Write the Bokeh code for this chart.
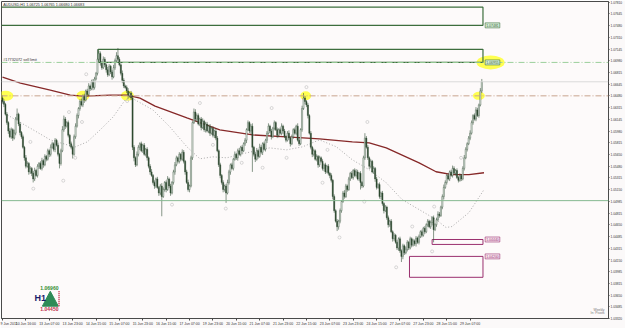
from bokeh.plotting import figure
from bokeh.models import Range1d, FixedTicker, Label, ColumnDataSource, Span
from bokeh.embed import file_html
from bokeh.resources import INLINE

# ---------------- data (AUDUSD H1) ----------------
first_open = 1.0645
closes = [
    1.0640, 1.0636, 1.0622, 1.0610, 1.0598, 1.0590, 1.0600, 1.0588, 1.0595, 1.0615,
    1.0622, 1.0608, 1.0596, 1.0590, 1.0575, 1.0560, 1.0548, 1.0552, 1.0540, 1.0545,
    1.0538, 1.0530, 1.0542, 1.0535, 1.0548, 1.0552, 1.0545, 1.0556, 1.0550, 1.0562,
    1.0558, 1.0570, 1.0565, 1.0575, 1.0580, 1.0572, 1.0585, 1.0578, 1.0565, 1.0552,
    1.0570, 1.0600, 1.0615, 1.0605, 1.0610, 1.0592, 1.0580, 1.0575, 1.0565, 1.0590,
    1.0605, 1.0620, 1.0630, 1.0640, 1.0635, 1.0648, 1.0642, 1.0655, 1.0650, 1.0662,
    1.0658, 1.0668, 1.0660, 1.0672, 1.0680, 1.0700, 1.0708, 1.0695, 1.0688, 1.0700,
    1.0692, 1.0685, 1.0678, 1.0690, 1.0682, 1.0675, 1.0688, 1.0698, 1.0705, 1.0700,
    1.0692, 1.0680, 1.0670, 1.0662, 1.0660, 1.0655, 1.0648, 1.0652, 1.0645, 1.0575,
    1.0560, 1.0550, 1.0565, 1.0575, 1.0580, 1.0570, 1.0578, 1.0565, 1.0572, 1.0560,
    1.0548, 1.0540, 1.0535, 1.0525, 1.0520, 1.0530, 1.0518, 1.0510, 1.0520, 1.0505,
    1.0515, 1.0525, 1.0515, 1.0530, 1.0520, 1.0510, 1.0525, 1.0540, 1.0550, 1.0560,
    1.0555, 1.0565, 1.0558, 1.0568, 1.0555, 1.0540, 1.0525, 1.0515, 1.0520, 1.0560,
    1.0610, 1.0625, 1.0615, 1.0620, 1.0608, 1.0615, 1.0603, 1.0612, 1.0600, 1.0608,
    1.0598, 1.0605, 1.0595, 1.0602, 1.0592, 1.0598, 1.0588, 1.0570, 1.0550, 1.0535,
    1.0525, 1.0515, 1.0520, 1.0510, 1.0525, 1.0540, 1.0550, 1.0545, 1.0558, 1.0565,
    1.0560, 1.0570, 1.0565, 1.0575, 1.0570, 1.0580, 1.0585, 1.0600, 1.0610, 1.0598,
    1.0605, 1.0575, 1.0565, 1.0558, 1.0570, 1.0562, 1.0575, 1.0568, 1.0580, 1.0572,
    1.0585, 1.0595, 1.0605, 1.0598, 1.0590, 1.0602, 1.0610, 1.0600, 1.0592, 1.0600,
    1.0595, 1.0605, 1.0598, 1.0590, 1.0585, 1.0595, 1.0588, 1.0580, 1.0590, 1.0600,
    1.0595, 1.0605, 1.0585, 1.0580, 1.0600, 1.0630, 1.0645, 1.0640, 1.0635, 1.0620,
    1.0595, 1.0575, 1.0565, 1.0570, 1.0558, 1.0562, 1.0550, 1.0560, 1.0555, 1.0545,
    1.0550, 1.0540, 1.0548, 1.0538, 1.0535, 1.0528, 1.0505, 1.0485, 1.0470, 1.0462,
    1.0470, 1.0485, 1.0498, 1.0510, 1.0505, 1.0520, 1.0515, 1.0530, 1.0538, 1.0532,
    1.0542, 1.0535, 1.0540, 1.0530, 1.0538, 1.0525, 1.0520, 1.0560, 1.0588, 1.0575,
    1.0560, 1.0548, 1.0555, 1.0540, 1.0545, 1.0530, 1.0518, 1.0522, 1.0505, 1.0510,
    1.0495, 1.0485, 1.0490, 1.0475, 1.0465, 1.0470, 1.0455, 1.0445, 1.0450, 1.0440,
    1.0432, 1.0445, 1.0428, 1.0420, 1.0435, 1.0425, 1.0430, 1.0440, 1.0432, 1.0445,
    1.0436, 1.0442, 1.0438, 1.0446, 1.0440, 1.0448, 1.0455, 1.0450, 1.0460, 1.0455,
    1.0465, 1.0470, 1.0462, 1.0468, 1.0475, 1.0458, 1.0465, 1.0472, 1.0480, 1.0478,
    1.0490, 1.0505, 1.0518, 1.0525, 1.0535, 1.0530, 1.0540, 1.0535, 1.0545, 1.0538,
    1.0542, 1.0532, 1.0528, 1.0535, 1.0530, 1.0545, 1.0560, 1.0572, 1.0580, 1.0588,
    1.0595, 1.0610, 1.0620, 1.0615, 1.0628, 1.0620, 1.0635, 1.0655, 1.0668,
]
# upper / lower shadow lengths in pips
up_wick = [
    4,3,2,3,2,4,3,2,5,3, 8,2,3,2,3,2,4,3,2,3,
    2,3,4,2,3,2,3,4,2,3, 2,3,2,4,3,2,3,2,3,2,
    3,5,5,3,2,3,2,3,2,3, 4,3,2,3,4,2,3,2,3,4,
    2,3,4,3,2,14,4,3,2,4, 3,2,4,3,2,3,4,3,5,11,
    3,2,4,3,2,3,4,2,3,4, 3,2,4,3,2,3,2,3,2,3,
    2,3,4,2,3,2,3,2,3,4, 3,2,3,4,2,3,2,3,4,3,
    2,3,2,4,3,2,3,4,2,3, 2,5,4,3,3,2,3,4,2,3,
    3,2,3,2,3,2,4,3,2,3, 2,3,2,3,4,3,2,3,2,4,
    2,3,4,2,3,2,3,2,3,2, 3,4,2,3,4,2,5,3,2,3,
    2,3,4,2,3,2,3,2,3,2, 3,4,2,3,2,3,4,2,3,2,
    3,2,4,3,2,4,7,3,2,3, 2,3,2,3,2,3,2,3,2,3,
    2,3,2,3,2,3,2,3,2,3, 2,3,2,3,4,3,2,3,2,3,
    2,3,4,3,2,3,2,3,7,3, 3,2,3,2,3,2,3,2,3,2,
    3,2,3,2,3,2,3,2,3,2, 3,2,3,2,3,2,4,3,2,3,
    2,3,2,3,2,3,2,3,2,3, 2,3,2,3,2,3,2,3,4,3,
    2,3,4,3,2,3,2,3,4,3, 2,3,2,3,2,3,4,3,2,3,
    4,3,2,3,4,3,2,4,4,
]
lo_wick = [
    3,4,2,3,4,2,3,4,2,3, 2,3,4,3,2,4,3,2,4,3,
    4,5,3,2,3,4,2,3,4,2, 3,2,4,3,2,3,4,2,3,7,
    3,2,3,4,2,3,4,3,6,2, 3,2,4,3,2,3,4,2,3,2,
    3,2,4,3,2,3,2,4,3,2, 3,4,3,2,3,4,2,3,2,3,
    2,3,4,3,2,3,4,2,3,4, 5,3,2,3,4,2,3,2,3,4,
    3,4,2,3,4,3,2,4,3,28, 2,3,4,2,3,4,2,3,4,2,
    3,3,3,2,3,4,2,3,4,2, 3,2,3,4,2,3,4,2,3,4,
    2,3,4,2,3,4,3,2,3,4, 3,4,3,14,2,3,4,2,3,2,
    3,4,2,3,4,2,3,4,2,3, 4,35,3,4,2,3,2,3,4,2,
    3,4,2,3,4,2,3,2,4,3, 2,3,4,2,3,2,3,4,2,3,
    2,3,2,3,2,3,2,4,3,4, 2,3,4,3,2,3,4,3,2,3,
    4,3,2,3,4,3,4,3,2,6, 4,3,3,2,3,2,3,2,3,2,
    3,2,3,2,3,10,3,2,3,2, 3,4,3,2,3,4,3,2,3,4,
    3,4,2,3,4,3,2,4,3,2, 3,4,3,8,4,3,2,3,3,2,
    3,2,3,4,2,3,2,3,2,3, 2,3,2,3,4,18,2,3,2,3,
    2,3,4,2,3,2,3,2,3,2, 3,2,3,2,3,2,3,2,3,2,
    3,2,3,2,3,2,3,2,3,
]

# slow moving average (dark red), sampled
ma_slow_idx = [0, 12.3, 32.7, 46.4, 55.3, 73.7, 85.3, 94.1, 104.4, 126.2, 148.7, 171.2,
               194.4, 216.9, 239.4, 251, 262.6, 285.1, 296.7, 307.6, 319.2, 329.5]
ma_slow_val = [1.06745, 1.06661, 1.06562, 1.06491, 1.06477, 1.06491, 1.06491, 1.06448,
               1.06335, 1.06166, 1.05996, 1.05925, 1.05897, 1.05869, 1.05826, 1.05812,
               1.05741, 1.05529, 1.05402, 1.05360, 1.05360, 1.05388]
# fast moving average (dotted grey), sampled
ma_fast_idx = [3.4, 21.1, 32.7, 44.3, 49.8, 58, 66.8, 75.7, 83.9, 87.3, 103, 114.6, 126.2,
               135.1, 143.9, 153.5, 167.1, 182.8, 194.4, 205.3, 216.9, 228.5, 239.4, 251,
               262.6, 273.5, 285.1, 296.7, 303.5, 307.6, 319.2, 329.5]
ma_fast_val = [1.06208, 1.05996, 1.05855, 1.05784, 1.05756, 1.05826, 1.05996, 1.06180,
               1.06420, 1.06463, 1.06279, 1.06038, 1.05756, 1.05586, 1.05614, 1.05600,
               1.05671, 1.05741, 1.05713, 1.05756, 1.05855, 1.05756, 1.05572, 1.05430,
               1.05246, 1.05006, 1.04865, 1.04723, 1.04610, 1.04624, 1.04822, 1.05148]
# fractal markers
fractal_idx = [19.1, 21.1, 41.6, 45.5, 49.8, 54.4, 57.3, 85.3, 116, 135.1, 144, 152.8,
               163.7, 178, 184.2, 194.4, 208, 219, 222.4, 230.6, 247.6, 249.7, 269.4,
               280.4, 294, 295.4, 313.8]
fractal_val = [1.05826, 1.05162, 1.05275, 1.06250, 1.05600, 1.06109, 1.06787, 1.06406,
               1.04935, 1.06378, 1.05784, 1.04879, 1.05529, 1.05459, 1.06307, 1.05600,
               1.06604, 1.05246, 1.05713, 1.04469, 1.04978, 1.06109, 1.04045, 1.04624,
               1.04271, 1.04907, 1.05600]

x_ticks = list(range(0, 321, 16))
x_tick_labels = ["9 Jun 2011", "10 Jun 16:00", "13 Jun 07:00", "13 Jun 23:00", "14 Jun 15:00",
                 "15 Jun 07:00", "15 Jun 23:00", "16 Jun 15:00", "17 Jun 07:00", "19 Jun 23:00",
                 "20 Jun 15:00", "21 Jun 07:00", "21 Jun 23:00", "22 Jun 15:00", "23 Jun 07:00",
                 "23 Jun 23:00", "24 Jun 15:00", "27 Jun 07:00", "27 Jun 23:00", "28 Jun 15:00",
                 "29 Jun 07:00"]
y_ticks = [1.07810, 1.07645, 1.07480, 1.07310, 1.07145, 1.06980, 1.06815, 1.06645, 1.06480,
           1.06315, 1.06145, 1.05980, 1.05815, 1.05650, 1.05480, 1.05315, 1.05150, 1.04985,
           1.04815, 1.04650, 1.04485, 1.04315, 1.04150, 1.03985, 1.03815, 1.03650, 1.03485,
           1.03320]

# chart objects: rectangles (left bar, right bar, top, bottom)
green_boxes = [(-5, 328.8, 1.07739, 1.07481), (65.5, 328.8, 1.07141, 1.06955)]
green_box_tags = ["1.07481", "1.06955"]
pink_boxes = [(294, 328.8, 1.04440, 1.04370), (278.5, 328.8, 1.04200, 1.03903)]
pink_box_tags = ["1.04440", "1.04200"]
sell_limit = 1.06955
pivot_level = 1.06480
support_level = 1.04992
last_price = closes[-1]
day_high, day_low = "1.06960", "1.04450"

# ---------------- derived candle arrays ----------------
opens = [first_open] + closes[:-1]
highs = [max(o, c) + u / 10000 for o, c, u in zip(opens, closes, up_wick)]
lows = [min(o, c) - d / 10000 for o, c, d in zip(opens, closes, lo_wick)]
idx = list(range(len(closes)))
bull = [c >= o for o, c in zip(opens, closes)]
src = ColumnDataSource(dict(
    x=idx, h=highs, l=lows,
    top=[max(o, c) for o, c in zip(opens, closes)],
    bot=[min(o, c) for o, c in zip(opens, closes)],
    fill=["#f2f6f2" if b else "#2c452c" for b in bull],
))

FONT = "Liberation Sans"

p = figure(width=625, height=328, output_backend="svg", toolbar_location=None,
           x_range=Range1d(-0.68, 414.7), y_range=Range1d(1.03318, 1.07820),
           y_axis_location="right", min_border_left=1, min_border_top=1,
           min_border_right=14, min_border_bottom=8)
p.background_fill_color = "#fdfafa"
p.border_fill_color = "#fbf9f9"
p.outline_line_color = "#4a4a4a"
p.grid.visible = False

for ax in (p.xaxis[0], p.yaxis[0]):
    ax.axis_line_color = "#4a4a4a"
    ax.major_tick_line_color = "#4a4a4a"
    ax.minor_tick_line_color = None
    ax.major_tick_out = 2
    ax.major_tick_in = 0
    ax.major_label_text_font_size = "3.5px"
    ax.major_label_text_color = "#333333"
    ax.major_label_text_font = FONT
    ax.major_label_standoff = 1
p.yaxis.major_tick_out = 1
p.yaxis.major_label_text_font_size = "3.2px"

p.xaxis.ticker = FixedTicker(ticks=x_ticks)
p.xaxis.major_label_overrides = {t: s for t, s in zip(x_ticks, x_tick_labels)}
p.xaxis.major_label_text_align = "left"
p.yaxis.ticker = FixedTicker(ticks=y_ticks)
p.yaxis.major_label_overrides = {t: f"{t:.5f}" for t in y_ticks}

# horizontal levels
p.add_layout(Span(location=sell_limit, dimension="width", line_color="#9ccf9c",
                  line_width=1, line_dash="6 2 1 2"))
p.add_layout(Span(location=pivot_level, dimension="width", line_color="#c9a48f",
                  line_width=1, line_dash="6 2 1 2"))
p.add_layout(Span(location=support_level, dimension="width", line_color="#86b991", line_width=1))
p.add_layout(Span(location=last_price, dimension="width", line_color="#dadada", line_width=1))

# yellow highlights
hl_x = [2, 55, 85.5, 207.5, 326, 334]
hl_y = [pivot_level] * 5 + [sell_limit]
hl_w = [16, 13, 13, 11, 12, 28]
hl_h = [10, 10, 10, 9, 8, 14]
p.ellipse(x=hl_x, y=hl_y, width=hl_w, height=hl_h, width_units="screen",
          height_units="screen", fill_color="#ffff33", fill_alpha=0.85, line_color=None)

# boxes
for (l, r, t, b) in green_boxes:
    p.quad(left=l, right=r, top=t, bottom=b, fill_alpha=0, line_color="#3d6e3d", line_width=1.2)
for (l, r, t, b) in pink_boxes:
    p.quad(left=l, right=r, top=t, bottom=b, fill_alpha=0, line_color="#9a2f6e", line_width=1)

# moving averages and fractals
p.line(ma_slow_idx, ma_slow_val, line_color="#862828", line_width=1.3)
p.line(ma_fast_idx, ma_fast_val, line_color="#a0a0a0", line_width=0.9, line_dash="1 2")
p.scatter(fractal_idx, fractal_val, marker="circle", size=3, fill_alpha=0,
          line_color="#bdbdbd", line_width=0.6)

# candles
p.segment(x0="x", x1="x", y0="l", y1="h", source=src, line_color="#35523a", line_width=0.6)
p.vbar(x="x", width=0.8, top="top", bottom="bot", source=src, fill_color="fill",
       line_color="#35523a", line_width=0.4)

# price tags beside the boxes
for (l, r, t, b), txt in zip(green_boxes, green_box_tags):
    p.add_layout(Label(x=r + 1.5, y=b, text=txt, text_font=FONT, text_font_size="3.5px",
                       text_color="#2f5f2f", text_baseline="middle",
                       background_fill_color="#d8eed8", border_line_color="#3d6e3d",
                       border_line_width=0.6, padding=1))
for (l, r, t, b), txt in zip(pink_boxes, pink_box_tags):
    p.add_layout(Label(x=r + 1.5, y=t, text=txt, text_font=FONT, text_font_size="3.5px",
                       text_color="#9a2f6e", text_baseline="middle",
                       background_fill_color="#f8e8f0", border_line_color="#9a2f6e",
                       border_line_width=0.6, padding=1))

# axis tags
p.add_layout(Label(x=414.9, y=last_price, text=f"{last_price:.5f}", text_font=FONT,
                   text_font_size="3.4px", text_color="white", text_baseline="middle",
                   background_fill_color="black", padding=1))
p.add_layout(Label(x=414.9, y=support_level, text=f"{support_level:.5f}", text_font=FONT,
                   text_font_size="3.4px", text_color="white", text_baseline="middle",
                   background_fill_color="#4fa55f", padding=1))

# texts
p.add_layout(Label(x=0.5, y=1.07770, text="AUDUSD,H1  1.06725 1.06765 1.06680 1.06683",
                   text_font=FONT, text_font_size="3.8px", text_color="#333333",
                   text_baseline="middle"))
p.add_layout(Label(x=0.5, y=sell_limit + 0.00008, text="#17732072 sell limit", text_font=FONT,
                   text_font_size="3.8px", text_color="#333333", text_baseline="bottom"))

# H1 day high/low badge
p.patch(x=[27.3, 38.2, 32.7], y=[1.03493, 1.03493, 1.03705], fill_color="#2e8b57",
        line_color="#2e8b57")
p.segment(x0=[38.7], x1=[38.7], y0=[1.03493], y1=[1.03705], line_color="#d0506a",
          line_width=2, line_dash="1 1")
p.add_layout(Label(x=32.1, y=1.03748, text=day_high, text_font=FONT, text_font_size="5px",
                   text_font_style="bold", text_color="#2e8b2e", text_align="center",
                   text_baseline="middle"))
p.add_layout(Label(x=32.1, y=1.03451, text=day_low, text_font=FONT, text_font_size="5px",
                   text_font_style="bold", text_color="#c0304a", text_align="center",
                   text_baseline="middle"))
p.add_layout(Label(x=25.9, y=1.03606, text="H1", text_font=FONT, text_font_size="9px",
                   text_font_style="bold", text_color="#1c1c6a", text_align="center",
                   text_baseline="middle"))

p.add_layout(Label(x=412, y=1.03440, text="Weekly", text_font=FONT, text_font_size="3.4px",
                   text_color="#777777", text_align="right", text_baseline="middle"))
p.add_layout(Label(x=412, y=1.03390, text="In: Pivots", text_font=FONT, text_font_size="3.4px",
                   text_color="#777777", text_align="right", text_baseline="middle"))

open("out.html", "w").write(file_html(p, INLINE))
